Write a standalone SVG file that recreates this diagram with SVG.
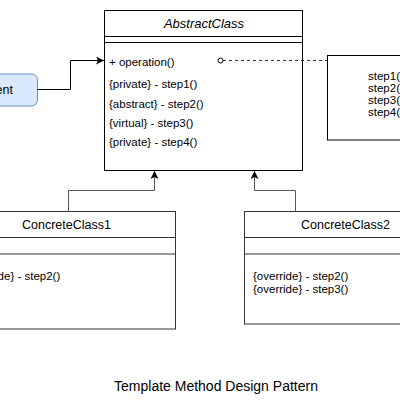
<svg xmlns="http://www.w3.org/2000/svg" width="400" height="420" viewBox="0 0 400 420">
<defs>
<style>
text{font-family:"Liberation Sans",Arial,sans-serif;fill:#000}
.m{font-size:11.5px}
.t{font-size:12.5px}
.box{fill:#fff;stroke:#000;stroke-width:1}
.cbox{fill:#fff;stroke:#333;stroke-width:1}
.conn{fill:none;stroke:#000;stroke-width:1}
.inh{fill:none;stroke:#555;stroke-width:1}
</style>
<marker id="arr" viewBox="0 0 10 10" refX="10" refY="5" markerWidth="8" markerHeight="8" markerUnits="userSpaceOnUse" orient="auto">
<path d="M0,0 L10,5 L0,10 L2.5,5 z" fill="#000"/>
</marker>
</defs>
<g id="client">
<rect x="-43.5" y="74" width="81" height="32" rx="6" fill="#dae8fc" stroke="#6c8ebf"/>
<text class="t" x="-3" y="94" text-anchor="middle">Client</text>
</g>
<g id="abstractclass">
<rect class="box" x="104.5" y="10.5" width="198" height="160"/>
<line x1="104.5" y1="36.5" x2="302.5" y2="36.5" stroke="#000"/>
<line x1="104.5" y1="42.5" x2="302.5" y2="42.5" stroke="#000"/>
<text x="204" y="28" font-size="13" font-style="italic" text-anchor="middle">AbstractClass</text>
<text class="m" x="109" y="66">+ operation()</text>
<text class="m" x="109" y="88">{private} - step1()</text>
<text class="m" x="109" y="107.5">{abstract} - step2()</text>
<text class="m" x="109" y="127">{virtual} - step3()</text>
<text class="m" x="109" y="146">{private} - step4()</text>
</g>
<g id="note">
<rect class="box" x="327.5" y="55.5" width="120" height="84.5"/>
<text class="m" x="368" y="80">step1()</text>
<text class="m" x="368" y="92">step2()</text>
<text class="m" x="368" y="104">step3()</text>
<text class="m" x="368" y="116">step4()</text>
</g>
<g id="concreteclass1">
<rect class="cbox" x="-40.5" y="211.5" width="216" height="117.5"/>
<line x1="-40.5" y1="237.5" x2="175.5" y2="237.5" stroke="#333"/>
<line x1="-40.5" y1="254" x2="175.5" y2="254" stroke="#333"/>
<text class="t" x="66.5" y="229" text-anchor="middle">ConcreteClass1</text>
<text class="m" x="-35" y="280">{override} - step2()</text>
</g>
<g id="concreteclass2">
<rect class="cbox" x="244.5" y="211.5" width="204" height="112.5"/>
<line x1="244.5" y1="237.5" x2="448.5" y2="237.5" stroke="#333"/>
<line x1="244.5" y1="254" x2="448.5" y2="254" stroke="#333"/>
<text class="t" x="345.5" y="229" text-anchor="middle">ConcreteClass2</text>
<text class="m" x="253" y="280">{override} - step2()</text>
<text class="m" x="253" y="292.5">{override} - step3()</text>
</g>
<g id="caption">
<text x="216" y="391" font-size="14" fill="#333" text-anchor="middle">Template Method Design Pattern</text>
</g>
<g id="connectors">
<path class="conn" d="M37.5,89.5 H70.5 V60.5 H104" marker-end="url(#arr)"/>
<path d="M223,60.5 H327.5" fill="none" stroke="#333" stroke-dasharray="3,3"/>
<circle cx="220.5" cy="60.5" r="2.5" fill="#fff" stroke="#000"/>
<path class="inh" d="M68.5,211.5 V190.5 H154.5 V171" marker-end="url(#arr)"/>
<path class="inh" d="M295.5,211.5 V190.5 H254.5 V171" marker-end="url(#arr)"/>
</g>
</svg>
